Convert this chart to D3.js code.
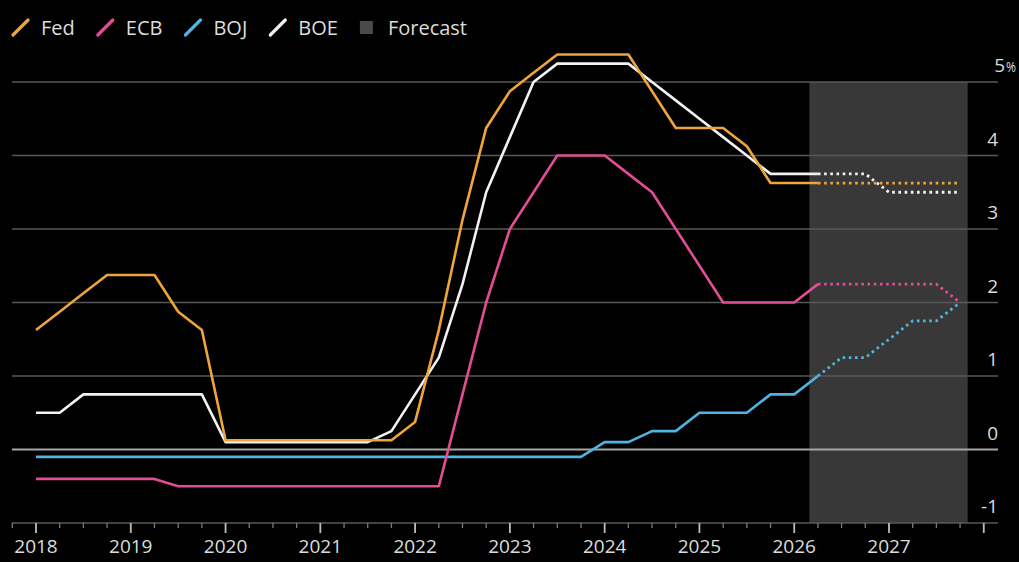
<!DOCTYPE html>
<html>
<head>
<meta charset="utf-8">
<script src="https://cdn.jsdelivr.net/npm/d3@7"></script>
<style>
  html, body { margin: 0; padding: 0; background: #000; }
  svg { display: block; }
  text { font-family: "Open Sans", "Noto Sans", sans-serif; fill: #dcdcdc; }
</style>
</head>
<body>
<svg id="chart" width="1019" height="562"></svg>
<script>
// ---- Data (quarterly, policy rates in %) ----
const quarters = [
  2018.0, 2018.25, 2018.5, 2018.75, 2019.0, 2019.25, 2019.5, 2019.75,
  2020.0, 2020.25, 2020.5, 2020.75, 2021.0, 2021.25, 2021.5, 2021.75,
  2022.0, 2022.25, 2022.5, 2022.75, 2023.0, 2023.25, 2023.5, 2023.75,
  2024.0, 2024.25, 2024.5, 2024.75, 2025.0, 2025.25, 2025.5, 2025.75,
  2026.0, 2026.25, 2026.5, 2026.75, 2027.0, 2027.25, 2027.5, 2027.75
];
const fed = [
  1.625, 1.875, 2.125, 2.375, 2.375, 2.375, 1.875, 1.625,
  0.125, 0.125, 0.125, 0.125, 0.125, 0.125, 0.125, 0.125,
  0.375, 1.625, 3.125, 4.375, 4.875, 5.125, 5.375, 5.375,
  5.375, 5.375, 4.875, 4.375, 4.375, 4.375, 4.125, 3.625,
  3.625, 3.625, 3.625, 3.625, 3.625, 3.625, 3.625, 3.625
];
const ecb = [
  -0.4, -0.4, -0.4, -0.4, -0.4, -0.4, -0.5, -0.5,
  -0.5, -0.5, -0.5, -0.5, -0.5, -0.5, -0.5, -0.5,
  -0.5, -0.5, 0.75, 2.0, 3.0, 3.5, 4.0, 4.0,
  4.0, 3.75, 3.5, 3.0, 2.5, 2.0, 2.0, 2.0,
  2.0, 2.25, 2.25, 2.25, 2.25, 2.25, 2.25, 2.0
];
const boj = [
  -0.1, -0.1, -0.1, -0.1, -0.1, -0.1, -0.1, -0.1,
  -0.1, -0.1, -0.1, -0.1, -0.1, -0.1, -0.1, -0.1,
  -0.1, -0.1, -0.1, -0.1, -0.1, -0.1, -0.1, -0.1,
  0.1, 0.1, 0.25, 0.25, 0.5, 0.5, 0.5, 0.75,
  0.75, 1.0, 1.25, 1.25, 1.5, 1.75, 1.75, 2.0
];
const boe = [
  0.5, 0.5, 0.75, 0.75, 0.75, 0.75, 0.75, 0.75,
  0.1, 0.1, 0.1, 0.1, 0.1, 0.1, 0.1, 0.25,
  0.75, 1.25, 2.25, 3.5, 4.25, 5.0, 5.25, 5.25,
  5.25, 5.25, 5.0, 4.75, 4.5, 4.25, 4.0, 3.75,
  3.75, 3.75, 3.75, 3.75, 3.5, 3.5, 3.5, 3.5
];
const seriesNames = ["Fed", "ECB", "BOJ", "BOE"];
const seriesColors = ["#eea53a", "#e44d96", "#4fb4e2", "#f2f2f2"];
const forecastStartIndex = 33;          // last actual point, dotted afterwards
const forecastSpan = [2026.16, 2027.83]; // shaded forecast period
const yTicks = [-1, 0, 1, 2, 3, 4, 5];
const yearTicks = [2018, 2019, 2020, 2021, 2022, 2023, 2024, 2025, 2026, 2027];

// ---- Layout ----
const svg = d3.select("#chart");
const W = 1019, H = 562;
svg.append("rect").attr("width", W).attr("height", H).attr("fill", "#000");

const x = d3.scaleLinear().domain([2018, 2027]).range([36, 889]);
const y = d3.scaleLinear().domain([0, 5]).range([449.5, 82]);
const xLeft = 12, xRight = 998;

// Forecast shading
svg.append("rect")
  .attr("x", x(forecastSpan[0]))
  .attr("y", y(5))
  .attr("width", x(forecastSpan[1]) - x(forecastSpan[0]))
  .attr("height", y(-1) - y(5))
  .attr("fill", "#383838");

// Gridlines
const grid = svg.append("g");
yTicks.forEach(v => {
  grid.append("line")
    .attr("x1", xLeft).attr("x2", xRight)
    .attr("y1", y(v)).attr("y2", y(v))
    .attr("stroke", v === 0 ? "#a6a6a6" : "#585858")
    .attr("stroke-width", v === 0 ? 2.2 : 1.5);
});

// Y labels (right side, above line)
const yl = svg.append("g");
yTicks.forEach(v => {
  if (v === 5) {
    yl.append("text")
      .attr("x", xRight + 7)
      .attr("y", y(v) - 10)
      .attr("text-anchor", "end")
      .attr("font-size", 19)
      .text(v);
    yl.append("text")
      .attr("x", xRight + 8)
      .attr("y", y(v) - 10)
      .attr("font-size", 15)
      .attr("textLength", 10)
      .attr("lengthAdjust", "spacingAndGlyphs")
      .text("%");
  } else {
    yl.append("text")
      .attr("x", xRight)
      .attr("y", y(v) - 10)
      .attr("text-anchor", "end")
      .attr("font-size", 19)
      .text(v);
  }
});

// X axis ticks (quarterly minor, yearly major)
const axisY = y(-1);
const minorTicks = d3.range(2017.75, 2028.01, 0.25);
const ax = svg.append("g");
minorTicks.forEach(t => {
  const major = Math.abs(t - Math.round(t)) < 1e-6;
  ax.append("line")
    .attr("x1", x(t)).attr("x2", x(t))
    .attr("y1", axisY).attr("y2", axisY + (major ? 10 : 5))
    .attr("stroke", major ? "#bdbdbd" : "#7a7a7a")
    .attr("stroke-width", major ? 1.8 : 1.3);
});
yearTicks.forEach(t => {
  ax.append("text")
    .attr("x", x(t)).attr("y", 553)
    .attr("text-anchor", "middle")
    .attr("font-size", 19)
    .text(t);
});

// Lines
const allSeries = [fed, ecb, boj, boe];
const line = d3.line().x(d => x(d[0])).y(d => y(d[1]));
const order = [2, 1, 3, 0];
order.forEach(i => {
  const pts = quarters.map((q, k) => [q, allSeries[i][k]]);
  const actual = pts.slice(0, forecastStartIndex + 1);
  const fc = pts.slice(forecastStartIndex);
  svg.append("path")
    .attr("d", line(actual))
    .attr("fill", "none")
    .attr("stroke", seriesColors[i])
    .attr("stroke-width", 2.6)
    .attr("stroke-linejoin", "round");
  svg.append("path")
    .attr("d", line(fc))
    .attr("fill", "none")
    .attr("stroke", seriesColors[i])
    .attr("stroke-width", 2.8)
    .attr("stroke-dasharray", "2.6,3.6");
});

// Legend
const lg = svg.append("g");
let lx = 13;
const ly = 35;
seriesNames.forEach((name, i) => {
  lg.append("line")
    .attr("x1", lx).attr("y1", ly)
    .attr("x2", lx + 15).attr("y2", ly - 15)
    .attr("stroke", seriesColors[i])
    .attr("stroke-width", 3.2)
    .attr("stroke-linecap", "round");
  const t = lg.append("text")
    .attr("x", lx + 28).attr("y", ly)
    .attr("font-size", 20)
    .text(name);
  lx = lx + 28 + t.node().getComputedTextLength() + 23;
});
lg.append("rect")
  .attr("x", lx - 1).attr("y", ly - 14)
  .attr("width", 13).attr("height", 13)
  .attr("fill", "#4a4a4a");
lg.append("text")
  .attr("x", lx + 27).attr("y", ly)
  .attr("font-size", 20)
  .text("Forecast");
</script>
</body>
</html>
